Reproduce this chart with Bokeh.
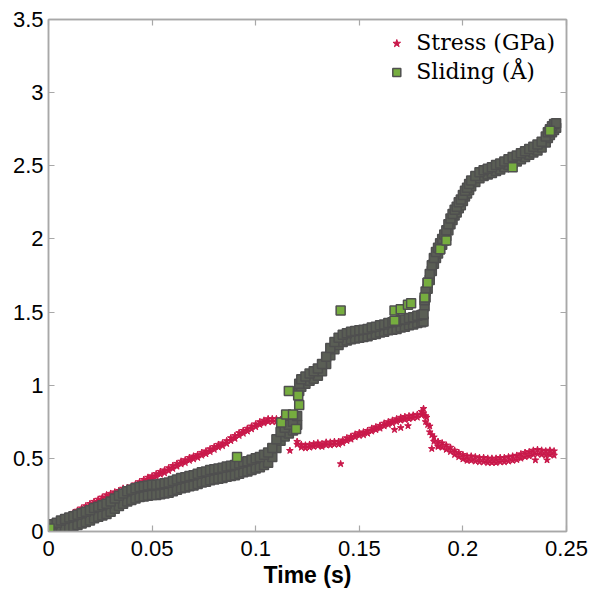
from bokeh.plotting import figure
from bokeh.models import Range1d, LinearAxis, Legend, LegendItem, FixedTicker
from bokeh.embed import file_html
from bokeh.resources import INLINE

# ---------------- data ----------------
x_ticks = [0, 0.05, 0.1, 0.15, 0.2, 0.25]
x_tick_labels = ["0", "0.05", "0.1", "0.15", "0.2", "0.25"]
y_ticks = [0, 0.5, 1, 1.5, 2, 2.5, 3, 3.5]
y_tick_labels = ["0", "0.5", "1", "1.5", "2", "2.5", "3", "3.5"]

# Sliding (Å): dense band, lower / upper edge of the band at each time
sliding_t = [0.000, 0.002, 0.004, 0.006, 0.008, 0.010, 0.012, 0.014, 0.016, 0.018,
             0.020, 0.022, 0.024, 0.026, 0.028, 0.030, 0.032, 0.034, 0.036, 0.038,
             0.040, 0.042, 0.044, 0.046, 0.048, 0.050, 0.052, 0.054, 0.056, 0.058,
             0.060, 0.062, 0.064, 0.066, 0.068, 0.070, 0.072, 0.074, 0.076, 0.078,
             0.080, 0.082, 0.084, 0.086, 0.088, 0.090, 0.092, 0.094, 0.096, 0.098,
             0.100, 0.102, 0.104, 0.106, 0.108, 0.110, 0.112, 0.114, 0.116, 0.118,
             0.120, 0.121, 0.122, 0.124, 0.126, 0.128, 0.130, 0.132, 0.134, 0.136,
             0.138, 0.140, 0.142, 0.144, 0.146, 0.148, 0.150, 0.152, 0.154, 0.156,
             0.158, 0.160, 0.162, 0.164, 0.166, 0.168, 0.170, 0.172, 0.174, 0.176,
             0.178, 0.180, 0.181, 0.1815, 0.182, 0.183, 0.184, 0.185, 0.186, 0.187,
             0.188, 0.189, 0.190, 0.191, 0.192, 0.193, 0.194, 0.195, 0.196, 0.197,
             0.198, 0.199, 0.200, 0.201, 0.202, 0.203, 0.204, 0.206, 0.208, 0.210,
             0.212, 0.214, 0.216, 0.218, 0.220, 0.222, 0.224, 0.226, 0.228, 0.230,
             0.232, 0.234, 0.236, 0.238, 0.240, 0.241, 0.242, 0.243, 0.244, 0.245]
sliding_lo = [0.00, 0.00, 0.00, 0.01, 0.015, 0.025, 0.035, 0.045, 0.055, 0.065,
              0.075, 0.09, 0.10, 0.11, 0.12, 0.135, 0.155, 0.175, 0.19, 0.205,
              0.215, 0.225, 0.235, 0.24, 0.245, 0.25, 0.25, 0.255, 0.26, 0.265,
              0.275, 0.285, 0.295, 0.30, 0.31, 0.315, 0.325, 0.335, 0.34, 0.35,
              0.355, 0.36, 0.365, 0.375, 0.38, 0.385, 0.395, 0.405, 0.41, 0.42,
              0.43, 0.44, 0.455, 0.47, 0.51, 0.57, 0.62, 0.65, 0.67, 0.69,
              0.73, 0.96, 0.99, 1.01, 1.03, 1.045, 1.065, 1.095, 1.145, 1.205,
              1.245, 1.275, 1.295, 1.305, 1.315, 1.32, 1.325, 1.33, 1.335, 1.345,
              1.35, 1.36, 1.365, 1.375, 1.38, 1.385, 1.395, 1.40, 1.41, 1.415,
              1.425, 1.43, 1.435, 1.54, 1.60, 1.66, 1.72, 1.78, 1.83, 1.87,
              1.90, 1.93, 1.96, 1.99, 2.02, 2.06, 2.10, 2.13, 2.16, 2.18,
              2.21, 2.23, 2.26, 2.29, 2.31, 2.335, 2.36, 2.39, 2.415, 2.43,
              2.44, 2.45, 2.465, 2.475, 2.49, 2.505, 2.52, 2.53, 2.545, 2.56,
              2.575, 2.59, 2.605, 2.625, 2.66, 2.69, 2.71, 2.73, 2.745, 2.76]
sliding_hi = [0.04, 0.05, 0.06, 0.075, 0.085, 0.095, 0.105, 0.115, 0.125, 0.135,
              0.145, 0.16, 0.17, 0.18, 0.19, 0.205, 0.225, 0.245, 0.26, 0.275,
              0.285, 0.295, 0.305, 0.31, 0.315, 0.32, 0.32, 0.325, 0.33, 0.335,
              0.345, 0.355, 0.365, 0.37, 0.38, 0.385, 0.395, 0.405, 0.41, 0.42,
              0.425, 0.43, 0.435, 0.445, 0.45, 0.455, 0.465, 0.475, 0.48, 0.49,
              0.50, 0.51, 0.525, 0.54, 0.57, 0.63, 0.68, 0.71, 0.73, 0.75,
              0.79, 1.01, 1.04, 1.06, 1.08, 1.095, 1.115, 1.145, 1.195, 1.255,
              1.295, 1.325, 1.345, 1.355, 1.365, 1.37, 1.375, 1.38, 1.385, 1.395,
              1.40, 1.41, 1.415, 1.425, 1.43, 1.435, 1.445, 1.45, 1.46, 1.465,
              1.475, 1.48, 1.485, 1.58, 1.64, 1.70, 1.76, 1.82, 1.87, 1.91,
              1.94, 1.97, 2.00, 2.03, 2.06, 2.10, 2.14, 2.17, 2.20, 2.22,
              2.25, 2.27, 2.30, 2.33, 2.35, 2.375, 2.40, 2.43, 2.455, 2.47,
              2.48, 2.49, 2.505, 2.515, 2.53, 2.545, 2.56, 2.57, 2.585, 2.60,
              2.615, 2.63, 2.645, 2.665, 2.70, 2.73, 2.75, 2.77, 2.785, 2.79]
# Sliding (Å): isolated points (green squares clearly visible)
sliding_pts_t = [0.0005, 0.091, 0.1123, 0.1147, 0.118, 0.116, 0.1205, 0.121, 0.1195,
                 0.141, 0.167, 0.167, 0.170, 0.1735, 0.175, 0.1815, 0.183, 0.189,
                 0.192, 0.224, 0.242]
sliding_pts_v = [0.02, 0.51, 0.745, 0.80, 0.80, 0.96, 0.93, 0.865, 0.70,
                 1.51, 1.44, 1.51, 1.52, 1.55, 1.56, 1.60, 1.70, 1.93,
                 1.99, 2.49, 2.74]

# Stress (GPa): band, lower / upper edge at each time
stress_t = [0.000, 0.002, 0.004, 0.006, 0.008, 0.010, 0.012, 0.014, 0.016, 0.018,
            0.020, 0.022, 0.024, 0.026, 0.028, 0.030, 0.032, 0.034, 0.036, 0.038,
            0.040, 0.042, 0.044, 0.046, 0.048, 0.050, 0.052, 0.054, 0.056, 0.058,
            0.060, 0.062, 0.064, 0.066, 0.068, 0.070, 0.072, 0.074, 0.076, 0.078,
            0.080, 0.082, 0.084, 0.086, 0.088, 0.090, 0.092, 0.094, 0.096, 0.098,
            0.100, 0.102, 0.104, 0.106, 0.108, 0.110, 0.112, 0.114, 0.116, 0.118,
            0.120, 0.122, 0.124, 0.126, 0.128, 0.130, 0.132, 0.134, 0.136, 0.138,
            0.140, 0.142, 0.144, 0.146, 0.148, 0.150, 0.152, 0.154, 0.156, 0.158,
            0.160, 0.162, 0.164, 0.166, 0.168, 0.170, 0.172, 0.174, 0.176, 0.178,
            0.180, 0.181, 0.182, 0.184, 0.186, 0.188, 0.190, 0.192, 0.194, 0.196,
            0.198, 0.200, 0.202, 0.204, 0.206, 0.208, 0.210, 0.212, 0.214, 0.216,
            0.218, 0.220, 0.222, 0.224, 0.226, 0.228, 0.230, 0.232, 0.234, 0.236,
            0.238, 0.240, 0.242, 0.244]
stress_lo = [0.02, 0.035, 0.05, 0.065, 0.08, 0.09, 0.11, 0.125, 0.14, 0.155,
             0.17, 0.185, 0.20, 0.215, 0.23, 0.24, 0.25, 0.26, 0.275, 0.28,
             0.29, 0.305, 0.32, 0.335, 0.35, 0.36, 0.375, 0.39, 0.40, 0.415,
             0.43, 0.445, 0.46, 0.47, 0.485, 0.495, 0.505, 0.52, 0.53, 0.545,
             0.56, 0.575, 0.585, 0.60, 0.62, 0.635, 0.655, 0.67, 0.685, 0.70,
             0.715, 0.73, 0.74, 0.75, 0.75, 0.75, 0.745, 0.74, 0.73, 0.72,
             0.595, 0.575, 0.57, 0.575, 0.58, 0.585, 0.58, 0.59, 0.59, 0.595,
             0.595, 0.605, 0.62, 0.63, 0.645, 0.655, 0.66, 0.67, 0.685, 0.695,
             0.705, 0.72, 0.73, 0.74, 0.75, 0.76, 0.765, 0.77, 0.775, 0.78,
             0.795, 0.81, 0.75, 0.68, 0.615, 0.585, 0.575, 0.56, 0.545, 0.525,
             0.51, 0.495, 0.485, 0.485, 0.48, 0.475, 0.475, 0.47, 0.47, 0.47,
             0.475, 0.475, 0.48, 0.485, 0.49, 0.50, 0.51, 0.515, 0.525, 0.53,
             0.525, 0.52, 0.525, 0.52]
stress_hi = [0.04, 0.055, 0.07, 0.085, 0.10, 0.11, 0.13, 0.145, 0.16, 0.175,
             0.19, 0.205, 0.22, 0.235, 0.25, 0.26, 0.27, 0.28, 0.295, 0.30,
             0.31, 0.325, 0.34, 0.355, 0.37, 0.38, 0.395, 0.41, 0.42, 0.435,
             0.45, 0.465, 0.48, 0.49, 0.505, 0.515, 0.525, 0.54, 0.55, 0.565,
             0.58, 0.595, 0.605, 0.62, 0.64, 0.655, 0.675, 0.69, 0.705, 0.72,
             0.735, 0.75, 0.76, 0.77, 0.77, 0.77, 0.765, 0.76, 0.75, 0.74,
             0.615, 0.595, 0.59, 0.595, 0.60, 0.605, 0.60, 0.61, 0.61, 0.615,
             0.615, 0.625, 0.64, 0.65, 0.665, 0.675, 0.68, 0.69, 0.705, 0.715,
             0.725, 0.74, 0.75, 0.76, 0.77, 0.78, 0.785, 0.79, 0.795, 0.80,
             0.82, 0.84, 0.79, 0.72, 0.645, 0.615, 0.605, 0.59, 0.575, 0.555,
             0.54, 0.525, 0.515, 0.515, 0.51, 0.505, 0.505, 0.50, 0.50, 0.50,
             0.505, 0.505, 0.51, 0.515, 0.52, 0.53, 0.54, 0.545, 0.555, 0.56,
             0.555, 0.55, 0.555, 0.55]
# Stress (GPa): isolated points
stress_pts_t = [0.141, 0.1165, 0.167, 0.170, 0.1735, 0.185, 0.188, 0.235, 0.2406,
                0.183, 0.185, 0.1825]
stress_pts_v = [0.462, 0.553, 0.696, 0.709, 0.722, 0.566, 0.58, 0.488, 0.488,
                0.73, 0.66, 0.78]

# ---------------- figure ----------------
AX = "#a8a8a8"
TICK_FONT = "Liberation Sans"

p = figure(width=590, height=595, x_range=Range1d(0, 0.25), y_range=Range1d(0, 3.5),
           output_backend="svg", toolbar_location=None,
           min_border_left=48, min_border_right=24, min_border_top=19,
           min_border_bottom=64)
p.grid.visible = False
p.outline_line_color = AX
p.outline_line_width = 1.5
p.background_fill_color = "white"
p.border_fill_color = "white"

xticker = FixedTicker(ticks=x_ticks)
yticker = FixedTicker(ticks=y_ticks)


def style_axis(ax, ticker, labels, ticks, show):
    ax.ticker = ticker
    ax.axis_line_color = AX
    ax.axis_line_width = 1.5
    ax.major_tick_line_color = AX
    ax.major_tick_line_width = 1.2
    ax.major_tick_in = 6
    ax.major_tick_out = 0
    ax.minor_tick_line_color = None
    if show:
        ax.major_label_overrides = {t: l for t, l in zip(ticks, labels)}
        ax.major_label_text_font = TICK_FONT
        ax.major_label_text_font_size = "22px"
        ax.major_label_text_color = "black"
    else:
        ax.major_label_overrides = {t: "" for t in ticks}
        ax.major_label_standoff = 0


style_axis(p.xaxis[0], xticker, x_tick_labels, x_ticks, True)
style_axis(p.yaxis[0], yticker, y_tick_labels, y_ticks, True)
p.xaxis[0].major_label_standoff = 9
p.yaxis[0].major_label_standoff = 5
p.xaxis[0].axis_label = "Time (s)"
p.xaxis[0].axis_label_text_font = TICK_FONT
p.xaxis[0].axis_label_text_font_style = "bold"
p.xaxis[0].axis_label_text_font_size = "23px"
p.xaxis[0].axis_label_text_color = "black"
p.xaxis[0].axis_label_standoff = 3

top_ax = LinearAxis()
style_axis(top_ax, xticker, x_tick_labels, x_ticks, False)
p.add_layout(top_ax, "above")
right_ax = LinearAxis()
style_axis(right_ax, yticker, y_tick_labels, y_ticks, False)
p.add_layout(right_ax, "right")

RED = "#c9184a"
GREEN = "#76ad3f"
EDGE = "#4f4f4f"

r_s1 = p.scatter(stress_t, stress_lo, marker="star", size=7, fill_color=RED, line_color=RED)
p.scatter(stress_t, stress_hi, marker="star", size=7, fill_color=RED, line_color=RED)
p.scatter(stress_pts_t, stress_pts_v, marker="star", size=7, fill_color=RED, line_color=RED)

p.scatter(sliding_t, sliding_lo, marker="square", size=9, fill_color="#5a5e55",
          line_color=EDGE, line_width=1.5)
p.scatter(sliding_t, sliding_hi, marker="square", size=9, fill_color="#5a5e55",
          line_color=EDGE, line_width=1.5)
r_g = p.scatter(sliding_pts_t, sliding_pts_v, marker="square", size=9, fill_color=GREEN,
                line_color=EDGE, line_width=1.5)

legend = Legend(items=[LegendItem(label="Stress (GPa)", renderers=[r_s1]),
                       LegendItem(label="Sliding (Å)", renderers=[r_g])],
                location="top_right")
legend.label_text_font = "DejaVu Serif"
legend.label_text_font_size = "22px"
legend.label_text_color = "black"
legend.border_line_alpha = 0
legend.background_fill_alpha = 0
legend.glyph_width = 20
legend.glyph_height = 20
legend.label_standoff = 10
legend.spacing = 4
legend.padding = 11
legend.margin = 0
p.add_layout(legend)

open("out.html", "w").write(file_html(p, INLINE))
